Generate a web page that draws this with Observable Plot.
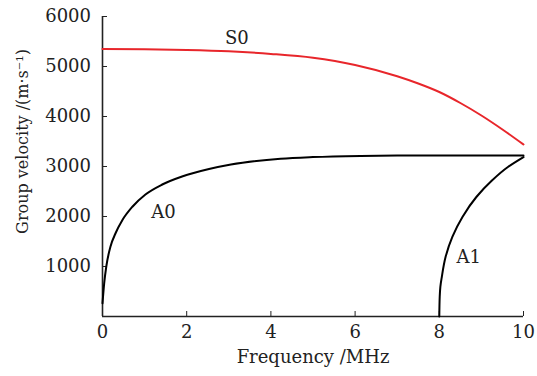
<!DOCTYPE html>
<html>
<head>
<meta charset="utf-8">
<script src="https://cdn.jsdelivr.net/npm/d3@7"></script>
<script src="https://cdn.jsdelivr.net/npm/@observablehq/plot@0.6"></script>
<style>
  body { margin: 0; background: #fff; }
</style>
</head>
<body>
<div id="chart"></div>
<script>
// Lamb-wave group velocity dispersion curves (m/s) against frequency (MHz)
const s0Freq = [0, 1, 2, 3, 4, 5, 6, 7, 7.5, 8, 8.5, 9, 9.5, 10];
const s0Vel  = [5350, 5345, 5330, 5303, 5252, 5175, 5030, 4805, 4660, 4490, 4270, 4020, 3740, 3440];

const a0Freq = [0, 0.04, 0.09, 0.19, 0.31, 0.47, 0.71, 1.02, 1.42, 1.89, 2.53, 3.05, 4.23, 5, 6.13, 7, 8, 9, 10];
const a0Vel  = [264, 663, 1000, 1400, 1665, 1925, 2195, 2440, 2640, 2800, 2950, 3040, 3155, 3188, 3212, 3220, 3222, 3222, 3222];

const a1Freq = [8, 8.01, 8.025, 8.06, 8.15, 8.31, 8.55, 8.88, 9.25, 9.63, 10];
const a1Vel  = [0, 395, 594, 794, 1193, 1592, 1991, 2390, 2720, 2990, 3188];

const modeNames = ["S0", "A0", "A1"];
const labelFreq = [3.19, 1.45, 8.7];
const labelVel  = [5565, 2095, 1195];

const xTicks = [0, 2, 4, 6, 8, 10];
const yTicks = [1000, 2000, 3000, 4000, 5000, 6000];

const toRows = (f, v) => f.map((x, i) => ({f: x, v: v[i]}));
const s0 = toRows(s0Freq, s0Vel);
const a0 = toRows(a0Freq, a0Vel);
const a1 = toRows(a1Freq, a1Vel);
const labels = modeNames.map((name, i) => ({name, f: labelFreq[i], v: labelVel[i]}));

const font = "'DejaVu Serif', serif";
const plain = d => String(d);

const chart = Plot.plot({
  width: 537,
  height: 376,
  marginLeft: 102,
  marginRight: 14,
  marginTop: 16,
  marginBottom: 60,
  style: {fontFamily: font, fontSize: "18px", color: "#222", background: "#fff"},
  x: {domain: [0, 10]},
  y: {domain: [0, 6000]},
  marks: [
    Plot.axisX({ticks: xTicks, tickFormat: plain, tickSize: -5, tickPadding: 14, fontSize: 18,
      label: "Frequency /MHz", labelAnchor: "center", labelArrow: "none", labelOffset: 46}),
    Plot.axisY({ticks: yTicks, tickFormat: plain, tickSize: -5, tickPadding: 16.5, fontSize: 18, label: null}),
    Plot.ruleX([0], {stroke: "#222", strokeWidth: 1.6}),
    Plot.ruleY([0], {stroke: "#222", strokeWidth: 1.6}),
    Plot.line(a0, {x: "f", y: "v", stroke: "#000", strokeWidth: 2, curve: "monotone-x"}),
    // A1 rises almost vertically from its cut-off, so interpolate along velocity
    Plot.line(a1, {x: "f", y: "v", stroke: "#000", strokeWidth: 2, curve: "monotone-y"}),
    Plot.line(s0, {x: "f", y: "v", stroke: "#e8262b", strokeWidth: 2, curve: "monotone-x"}),
    Plot.text(labels, {x: "f", y: "v", text: "name", fontSize: 18, fill: "#222"}),
    Plot.text(["Group velocity /(m\u00b7s\u207b\u00b9)"], {
      frameAnchor: "left", textAnchor: "middle", rotate: -90, dx: -80, dy: -25, fontSize: 16, fill: "#222"
    })
  ]
});

document.getElementById("chart").appendChild(chart);
</script>
</body>
</html>
